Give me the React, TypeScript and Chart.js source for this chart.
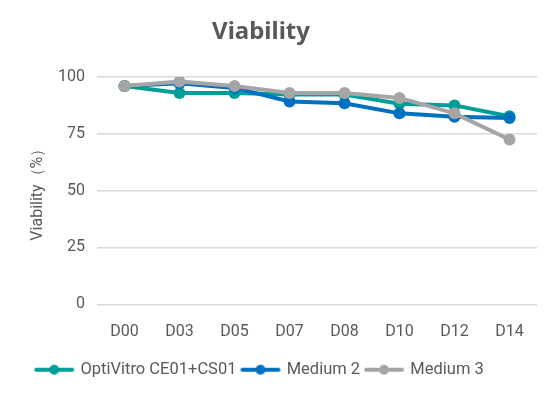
import React, { useEffect, useRef } from "react";
import { Chart, registerables } from "chart.js";

Chart.register(...registerables);

const categories = ["D00", "D03", "D05", "D07", "D08", "D10", "D12", "D14"];
const optiVitro = [96, 93, 93, 92.3, 92.3, 88.2, 87.5, 82.7];
const medium2 = [96, 97.3, 95.2, 89.2, 88.4, 84, 82.5, 82];
const medium3 = [96, 98, 96, 93, 93, 90.8, 84, 72.5];
const yTicks = [0, 25, 50, 75, 100];

const seriesNames = ["OptiVitro CE01+CS01", "Medium 2", "Medium 3"];
const seriesColors = ["#009E96", "#0070C0", "#A5A5A5"];
const titleText = "Viability";

const FONT = "Roboto, 'Liberation Sans', sans-serif";
const TEXT = "#595959";

function legendIcon(color: string) {
  const c = document.createElement("canvas");
  c.width = 42;
  c.height = 12;
  const ctx = c.getContext("2d")!;
  ctx.strokeStyle = color;
  ctx.lineWidth = 4;
  ctx.lineCap = "round";
  ctx.beginPath();
  ctx.moveTo(3, 6);
  ctx.lineTo(39, 6);
  ctx.stroke();
  ctx.fillStyle = color;
  ctx.beginPath();
  ctx.arc(21, 6, 5, 0, Math.PI * 2);
  ctx.fill();
  return c;
}

const titlePlugin = {
  id: "offsetTitle",
  afterDraw(chart: any) {
    const ctx = chart.ctx;
    ctx.save();
    ctx.fillStyle = TEXT;
    ctx.font = "bold 24px 'Noto Sans', sans-serif";
    ctx.textAlign = "center";
    ctx.textBaseline = "middle";
    ctx.fillText(titleText, 261, 32);
    ctx.restore();
  },
};

export default function App() {
  const ref = useRef<HTMLCanvasElement>(null);
  useEffect(() => {
    document.body.style.margin = "0";
    const values = [optiVitro, medium2, medium3];
    const chart = new Chart(ref.current!, {
      type: "line",
      data: {
        labels: categories,
        datasets: values.map((v, i) => ({
          label: seriesNames[i],
          data: v,
          order: values.length - 1 - i,
          borderColor: seriesColors[i],
          backgroundColor: seriesColors[i],
          borderWidth: 4,
          pointRadius: 6,
          pointHoverRadius: 6,
          pointBackgroundColor: seriesColors[i],
          pointBorderWidth: 0,
          pointStyle: "circle",
          tension: 0,
        })),
      },
      plugins: [titlePlugin],
      options: {
        animation: false,
        responsive: false,
        layout: { padding: { left: -17, right: 22, top: 77, bottom: 9 } },
        plugins: {
          title: { display: false },
          legend: {
            position: "bottom",
            labels: {
              usePointStyle: true,
              pointStyleWidth: 36,
              boxHeight: 12,
              color: TEXT,
              font: { family: FONT, size: 16.5 },
              padding: 6,
              generateLabels: (ch: any) =>
                ch.data.datasets.map((ds: any, i: number) => ({
                  text: ds.label,
                  fillStyle: seriesColors[i],
                  strokeStyle: seriesColors[i],
                  pointStyle: legendIcon(seriesColors[i]),
                  datasetIndex: i,
                  fontColor: TEXT,
                  lineWidth: 0,
                })),
            },
          },
          tooltip: { enabled: false },
        },
        scales: {
          x: {
            offset: true,
            grid: { display: false },
            border: { display: false },
            ticks: { color: TEXT, font: { family: FONT, size: 16 }, padding: 10 },
            afterFit: (s: any) => {
              s.height += 4;
            },
          },
          y: {
            min: 0,
            max: 100,
            afterBuildTicks: (s: any) => {
              s.ticks = yTicks.map((v) => ({ value: v }));
            },
            afterFit: (s: any) => {
              s.width = 114;
            },
            grid: { color: "#D9D9D9", lineWidth: 1.5, drawTicks: false },
            border: { display: false },
            ticks: { color: TEXT, font: { family: FONT, size: 16 }, padding: 12 },
            title: {
              display: true,
              text: "Viability（%）",
              color: TEXT,
              font: { family: FONT, size: 16 },
              padding: { top: 45, bottom: 0 },
            },
          },
        },
      },
    } as any);
    return () => chart.destroy();
  }, []);
  return (
    <div style={{ width: 559, height: 397 }}>
      <canvas ref={ref} width={559} height={397} />
    </div>
  );
}
